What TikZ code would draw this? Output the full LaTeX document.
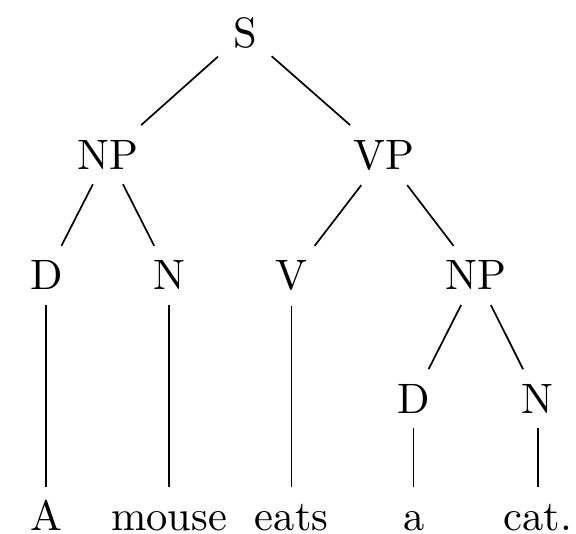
\documentclass[tikz,border=0pt]{standalone}
\begin{document}
\begin{tikzpicture}[x = 1pt, y = 1pt,
        phrase/.style = {anchor = base},
        word/.style = {anchor = base, text height = 6.83pt, text depth = 0pt}]
    \useasboundingbox (0, 0) rectangle (135.5, -125.4);

    % oben
    \node [phrase] (s) at (57.6, -11.1) {S};

    % zweite Ebene
    \node [phrase] (np) at (25.4, -39.8) {NP};
    \node [phrase] (vp) at (90.4, -39.8) {VP};

    % dritte Ebene
    \node [phrase] (d) at (10.9, -68.2) {D};
    \node [phrase] (n) at (39.8, -68.2) {N};
    \node [phrase] (v) at (68.6, -68.2) {V};
    \node [phrase] (npb) at (112.0, -68.2) {NP};

    % vierte Ebene
    \node [phrase] (db) at (97.3, -97.2) {D};
    \node [phrase] (nb) at (126.5, -97.2) {N};

    % unten
    \node [word] (a) at (10.9, -124.9) {A};
    \node [word] (mouse) at (39.8, -124.9) {mouse};
    \node [word] (eats) at (68.6, -124.9) {eats};
    \node [word] (ab) at (97.3, -124.9) {a};
    \node [word] (cat) at (126.5, -124.9) {cat.};

    \draw (s) -- (np);
    \draw (s) -- (vp);
    \draw (np) -- (d);
    \draw (np) -- (n);
    \draw (vp) -- (v);
    \draw (vp) -- (npb);
    \draw (npb) -- (db);
    \draw (npb) -- (nb);
    \draw (d) -- (a);
    \draw (n) -- (mouse);
    \draw (v) -- (eats);
    \draw (db) -- (ab);
    \draw (nb) -- (cat);
\end{tikzpicture}
\end{document}
